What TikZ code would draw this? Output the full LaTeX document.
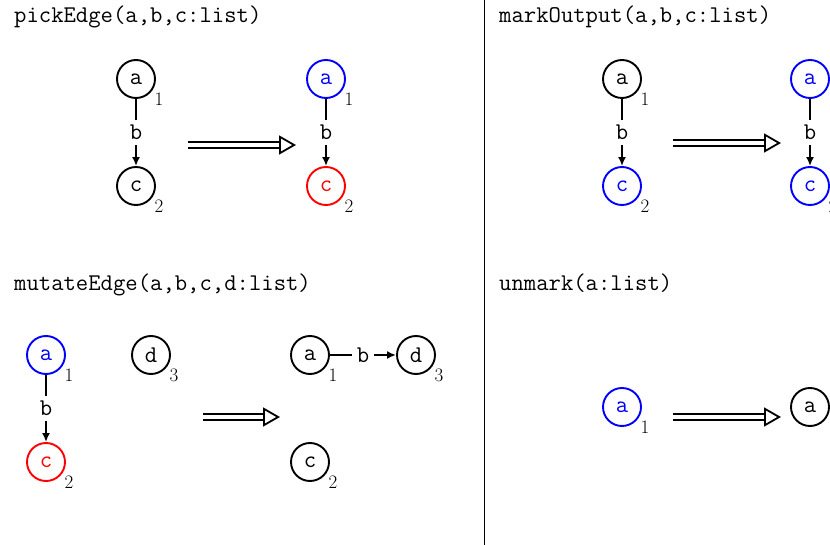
\documentclass[tikz,border=0pt]{standalone}
\usetikzlibrary{arrows.meta,calc}
\begin{document}
\begin{tikzpicture}[x=1pt,y=-1pt,
  every node/.style={font=\fontsize{24}{28}\selectfont\ttfamily},
  st/.style={circle,draw,line width=1.9pt,minimum size=38pt,inner sep=0pt},
  bl/.style={st,draw=blue,text=blue},
  rd/.style={st,draw=red,text=red},
  sub/.style={font=\fontsize{19}{22}\selectfont\rmfamily,inner sep=0pt,text=black},
  edge/.style={line width=1.9pt,-{Latex[length=9pt,width=8pt]}},
  elab/.style={fill=white,inner sep=5pt},
  trans/.style={double,double distance=4.5pt,line width=1.8pt,-{Triangle[open,length=17pt,width=19pt,line width=1.8pt]}},
  title/.style={anchor=base west,inner sep=0pt}]
\clip (0,0) rectangle (830,545);
% divider
\coordinate (dtop) at (484,0);
\coordinate (dbot) at (484,545);
\draw[line width=1pt] (dtop) -- (dbot);
% titles
\node[title] (t1) at (14,23) {pickEdge(a,b,c:list)};
\node[title] (t2) at (499,23) {markOutput(a,b,c:list)};
\node[title] (t3) at (14,291) {mutateEdge(a,b,c,d:list)};
\node[title] (t4) at (499,291) {unmark(a:list)};
% pickEdge
\node[st] (pa) at (136,79) {a};
\node[st] (pc) at (136,186) {c};
\node[sub] (pa1) at ($(pa)+(23,20)$) {1};
\node[sub] (pc2) at ($(pc)+(23,20)$) {2};
\draw[edge] (pa) -- node[elab] (pb) {b} (pc);
\coordinate (p1s) at (188,145);
\coordinate (p1e) at (296,145);
\draw[trans] (p1s) -- (p1e);
\node[bl] (qa) at (326,79) {a};
\node[rd] (qc) at (326,186) {c};
\node[sub] (qa1) at ($(qa)+(23,20)$) {1};
\node[sub] (qc2) at ($(qc)+(23,20)$) {2};
\draw[edge] (qa) -- node[elab] (qb) {b} (qc);
% markOutput
\node[st] (ma) at (622,79) {a};
\node[bl] (mc) at (622,186) {c};
\node[sub] (ma1) at ($(ma)+(23,20)$) {1};
\node[sub] (mc2) at ($(mc)+(23,20)$) {2};
\draw[edge] (ma) -- node[elab] (mb) {b} (mc);
\coordinate (p2s) at (673,143);
\coordinate (p2e) at (781,143);
\draw[trans] (p2s) -- (p2e);
\node[bl] (na) at (810,79) {a};
\node[bl] (nc) at (810,186) {c};
\node[sub] (na1) at ($(na)+(23,20)$) {1};
\node[sub] (nc2) at ($(nc)+(23,20)$) {2};
\draw[edge] (na) -- node[elab] (nb) {b} (nc);
% mutateEdge
\node[bl] (ua) at (46,355) {a};
\node[rd] (uc) at (46,462) {c};
\node[st] (ud) at (151,355) {d};
\node[sub] (ua1) at ($(ua)+(23,20)$) {1};
\node[sub] (uc2) at ($(uc)+(23,20)$) {2};
\node[sub] (ud3) at ($(ud)+(23,20)$) {3};
\draw[edge] (ua) -- node[elab] (ub) {b} (uc);
\coordinate (p3s) at (203,417);
\coordinate (p3e) at (280,417);
\draw[trans] (p3s) -- (p3e);
\node[st] (va) at (310,355) {a};
\node[st] (vd) at (416,355) {d};
\node[st] (vc) at (310,462) {c};
\node[sub] (va1) at ($(va)+(23,20)$) {1};
\node[sub] (vd3) at ($(vd)+(23,20)$) {3};
\node[sub] (vc2) at ($(vc)+(23,20)$) {2};
\draw[edge] (va) -- node[elab] (vb) {b} (vd);
% unmark
\node[bl] (wa) at (622,407) {a};
\node[sub] (wa1) at ($(wa)+(23,20)$) {1};
\coordinate (p4s) at (673,417);
\coordinate (p4e) at (781,417);
\draw[trans] (p4s) -- (p4e);
\node[st] (xa) at (810,407) {a};
\end{tikzpicture}
\end{document}
